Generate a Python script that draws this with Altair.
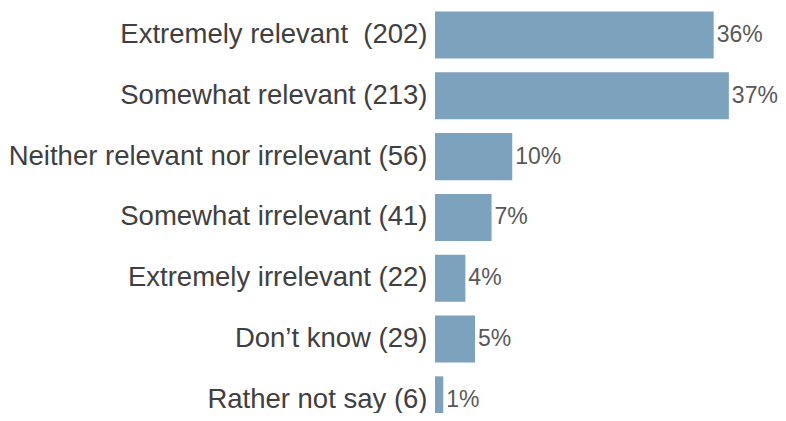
import altair as alt
import pandas as pd

categories = [
    "Extremely relevant\u00a0 (202)",
    "Somewhat relevant (213)",
    "Neither relevant nor irrelevant (56)",
    "Somewhat irrelevant (41)",
    "Extremely irrelevant (22)",
    "Don\u2019t know (29)",
    "Rather not say (6)",
]
counts = [202, 213, 56, 41, 22, 29, 6]
pct_labels = ["36%", "37%", "10%", "7%", "4%", "5%", "1%"]

total = sum(counts)
df = pd.DataFrame({
    "category": categories,
    "share": [c / total for c in counts],
    "label": pct_labels,
})

y_enc = alt.Y(
    "category:N",
    sort=categories,
    scale=alt.Scale(domain=categories, range=[3.5, 415.4], paddingInner=0.226, paddingOuter=0),
    axis=alt.Axis(
        title=None, ticks=False, domain=False, grid=False,
        labelFontSize=27.5, labelFont="Liberation Sans", labelColor="#404040",
        labelPadding=8, labelLimit=0,
    ),
)
x_enc = alt.X("share:Q", scale=alt.Scale(domain=[0, 0.4], nice=False), axis=None)

bars = alt.Chart(df).mark_bar(color="#7CA2BE", clip=True).encode(x=x_enc, y=y_enc)
text = alt.Chart(df).mark_text(
    align="left", baseline="middle", dx=3, fontSize=23,
    font="Liberation Sans", color="#595959",
).encode(x=x_enc, y=y_enc, text="label:N")

chart = (bars + text).properties(
    width=314, height=405,
    autosize=alt.AutoSizeParams(type="none"),
    padding={"left": 427, "top": 0, "right": 29, "bottom": 0},
).configure_view(stroke=None)

chart.save("out.html", embed_options={"renderer": "svg", "actions": False})
